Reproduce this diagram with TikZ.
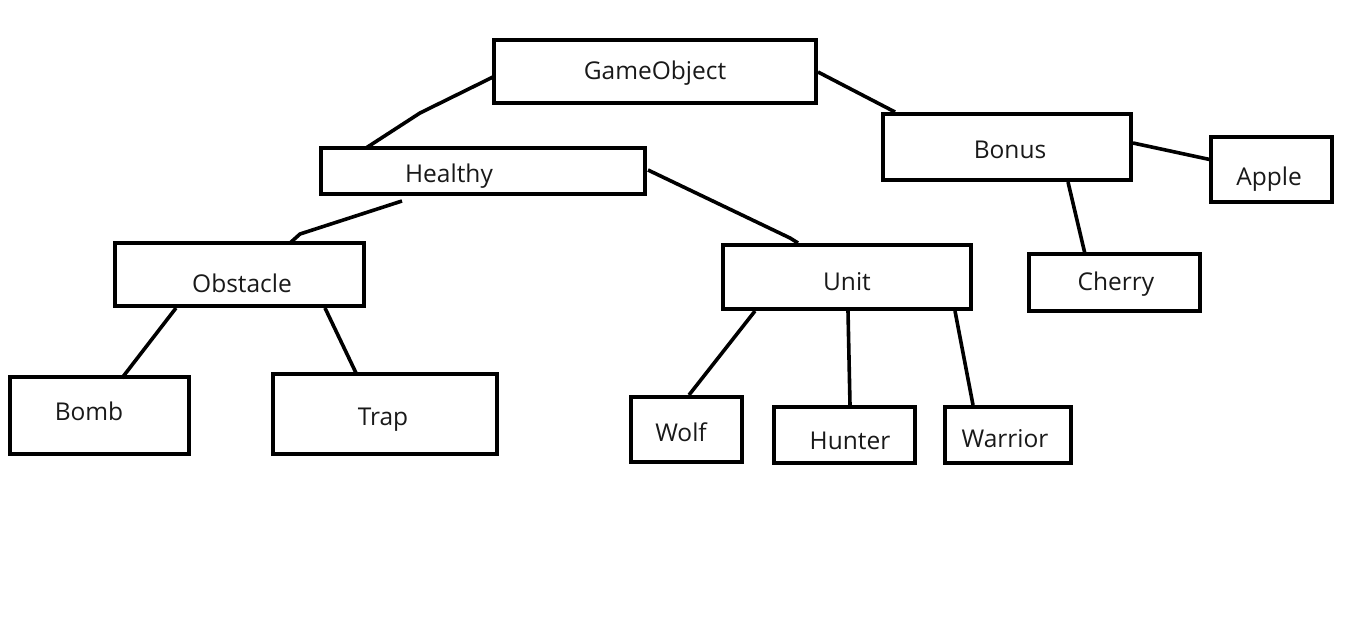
\documentclass[tikz,border=0pt]{standalone}
\usepackage{fontspec}
\setmainfont{Open Sans}
\usetikzlibrary{calc}
\tikzset{
  box/.style={draw=black, line width=3.6pt, rectangle, inner sep=0pt, fill=white},
  conn/.style={draw=black, line width=3.6pt, line join=round},
  lbl/.style={font=\fontsize{24.5}{28}\selectfont, text=black!90, inner sep=0pt}
}
\begin{document}
\begin{tikzpicture}[x=1pt,y=-1pt]
\useasboundingbox (0,0) rectangle (1350,629);
\fill[white] (0,0) rectangle (1350,629);
% boxes
\node[box, minimum width=322pt, minimum height=63pt, label={[lbl, yshift=-2pt]center:GameObject}] (go) at (655,71.5) {};
\node[box, minimum width=324pt, minimum height=46pt, label={[lbl, xshift=-34pt, yshift=-5pt]center:Healthy}] (hl) at (483,171) {};
\node[box, minimum width=248pt, minimum height=66pt, label={[lbl, xshift=3pt, yshift=-3pt]center:Bonus}] (bo) at (1007,147) {};
\node[box, minimum width=121pt, minimum height=65pt, label={[lbl, xshift=-2.5pt, yshift=-10pt]center:Apple}] (ap) at (1271.5,169.5) {};
\node[box, minimum width=249pt, minimum height=63pt, label={[lbl, xshift=2.5pt, yshift=-9pt]center:Obstacle}] (ob) at (239.5,274.5) {};
\node[box, minimum width=248pt, minimum height=64pt, label={[lbl, yshift=-5pt]center:Unit}] (un) at (847,277) {};
\node[box, minimum width=171pt, minimum height=57pt, label={[lbl, xshift=1.5pt, yshift=-1.5pt]center:Cherry}] (ch) at (1114.5,282.5) {};
\node[box, minimum width=179pt, minimum height=77pt, label={[lbl, xshift=-10.5pt, yshift=4pt]center:Bomb}] (bm) at (99.5,415.5) {};
\node[box, minimum width=224pt, minimum height=80pt, label={[lbl, xshift=-2pt, yshift=-6pt]center:Trap}] (tr) at (385,414) {};
\node[box, minimum width=111pt, minimum height=65pt, label={[lbl, xshift=-5.5pt, yshift=-3pt]center:Wolf}] (wo) at (686.5,429.5) {};
\node[box, minimum width=141pt, minimum height=56pt, label={[lbl, xshift=5.5pt, yshift=-6pt]center:Hunter}] (hu) at (844.5,435) {};
\node[box, minimum width=126pt, minimum height=56pt, label={[lbl, xshift=-3pt, yshift=-4pt]center:Warrior}] (wa) at (1008,435) {};
% connectors
\draw[conn] ($(go)+(-162,5.5)$) -- ($(hl)+(-63,-58)$) -- ($(hl)+(-117,-23)$);
\draw[conn] ($(go)+(163,0.5)$) -- ($(bo)+(-112,-35)$);
\draw[conn] ($(hl)+(-81,30)$) -- ($(ob)+(60.5,-40.5)$) -- ($(ob)+(50.5,-31.5)$);
\draw[conn] ($(hl)+(165,-1)$) -- ($(un)+(-57,-39)$) -- ($(un)+(-49,-34)$);
\draw[conn] ($(ob)+(-63.5,33.5)$) -- ($(bm)+(22.5,-37.5)$);
\draw[conn] ($(ob)+(85.5,33.5)$) -- ($(tr)+(-28,-39)$);
\draw[conn] ($(un)+(-92,34)$) -- ($(wo)+(2.5,-34.5)$);
\draw[conn] ($(un)+(1,34)$) -- ($(hu)+(5.5,-30)$);
\draw[conn] ($(un)+(108,34)$) -- ($(wa)+(-35,-30)$);
\draw[conn] ($(bo)+(126,-4)$) -- ($(ap)+(-59.5,-9.5)$);
\draw[conn] ($(bo)+(61,35)$) -- ($(ch)+(-29.5,-28.5)$);
\end{tikzpicture}
\end{document}
